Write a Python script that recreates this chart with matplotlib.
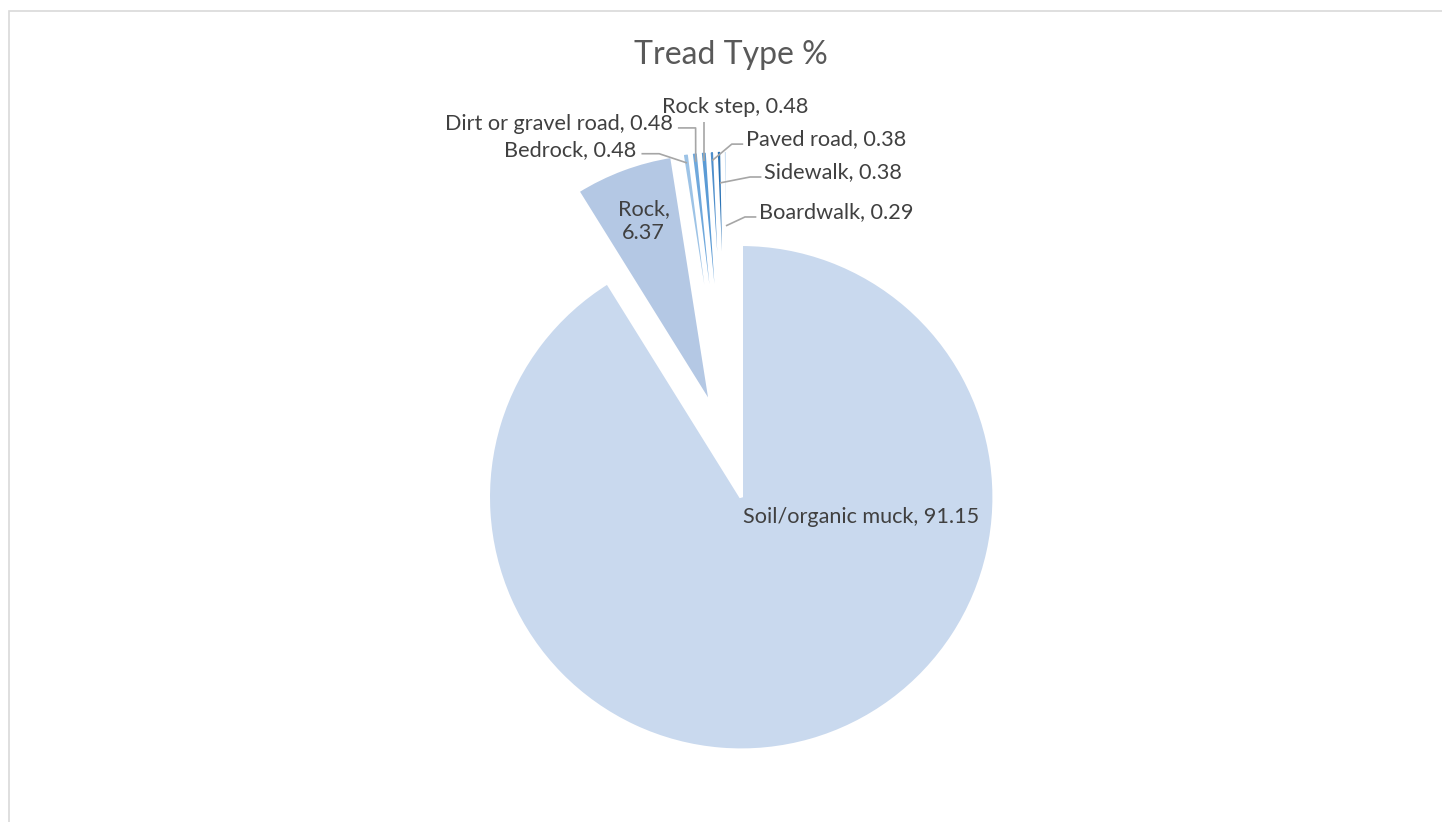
import numpy as np
import matplotlib.pyplot as plt
from matplotlib.patches import Rectangle

labels = ["Soil/organic muck", "Rock", "Bedrock", "Dirt or gravel road",
          "Rock step", "Paved road", "Sidewalk", "Boardwalk"]
values = [91.15, 6.37, 0.48, 0.48, 0.48, 0.38, 0.38, 0.29]
colors = ["#c9d9ee", "#b4c8e4", "#9dc3e6", "#6fa8dc",
          "#5b9bd5", "#4f8fcc", "#2e75b6", "#bdd7ee"]

# label placement (pie radius units, centre at 0,0)
label_pos = {
    "Soil/organic muck": (0.061, -0.261, "left"),
    "Rock": (-0.334, 0.909, "center"),
    "Bedrock": (-0.362, 1.190, "right"),
    "Dirt or gravel road": (-0.218, 1.292, "right"),
    "Rock step": (0.027, 1.360, "center"),
    "Paved road": (0.072, 1.233, "left"),
    "Sidewalk": (0.144, 1.103, "left"),
    "Boardwalk": (0.124, 0.945, "left"),
}
attach_r = {"Bedrock": 0.96, "Dirt or gravel road": 0.96, "Rock step": 0.96,
            "Paved road": 0.96, "Sidewalk": 0.87, "Boardwalk": 0.70}

plt.rcParams['font.family'] = ['Lato', 'DejaVu Sans']

W, H = 1442, 822
R = 253.0
cx, cy = 728.0, 451.0

fig = plt.figure(figsize=(W / 100, H / 100), dpi=100)
ax = fig.add_axes([0, 0, 1, 1])

wedges, _ = ax.pie(values, colors=colors, startangle=90, counterclock=False,
                   explode=[0.19] * len(values), radius=1.0,
                   wedgeprops=dict(edgecolor='white', linewidth=2.6))
ax.set_xlim(-cx / R, (W - cx) / R)
ax.set_ylim(-(H - cy) / R, cy / R)
ax.axis('off')

txt_col = '#404040'
fs = 15.6
for lab, val, w in zip(labels, values, wedges):
    x, y, ha = label_pos[lab]
    if lab == "Rock":
        s = f"{lab},\n{val:.2f}"
    else:
        s = f"{lab}, {val:.2f}"
    ax.text(x, y, s, ha=ha, va='center', fontsize=fs, color=txt_col,
            multialignment='center', linespacing=1.2)
    if lab in attach_r:
        mid = np.deg2rad((w.theta1 + w.theta2) / 2)
        r = attach_r[lab]
        px = w.center[0] + r * np.cos(mid)
        py = w.center[1] + r * np.sin(mid)
        if lab == "Rock step":
            xs = [px, px]
            ys = [y - 0.06, py]
        elif ha == "right":
            ex = x + 0.02
            xs = [ex, ex + 0.07, px]
            ys = [y - 0.015, y - 0.015, py]
        else:
            ex = x - 0.012
            xs = [ex, ex - 0.045, px]
            ys = [y - 0.02, y - 0.02, py]
        ax.plot(xs, ys, color='#a6a6a6', lw=1.2, solid_capstyle='butt')

fig.text(731 / W, 1 - 55 / H, "Tread Type %", ha='center', va='center',
         fontsize=23, color='#595959')

# chart area border
fig.patches.append(Rectangle((8.5 / W, -0.1), 1.2, 1.1 - 11.5 / H,
                             transform=fig.transFigure, fill=False,
                             edgecolor='#d9d9d9', lw=1.2))

fig.savefig("out.png", dpi=100, facecolor='white')
